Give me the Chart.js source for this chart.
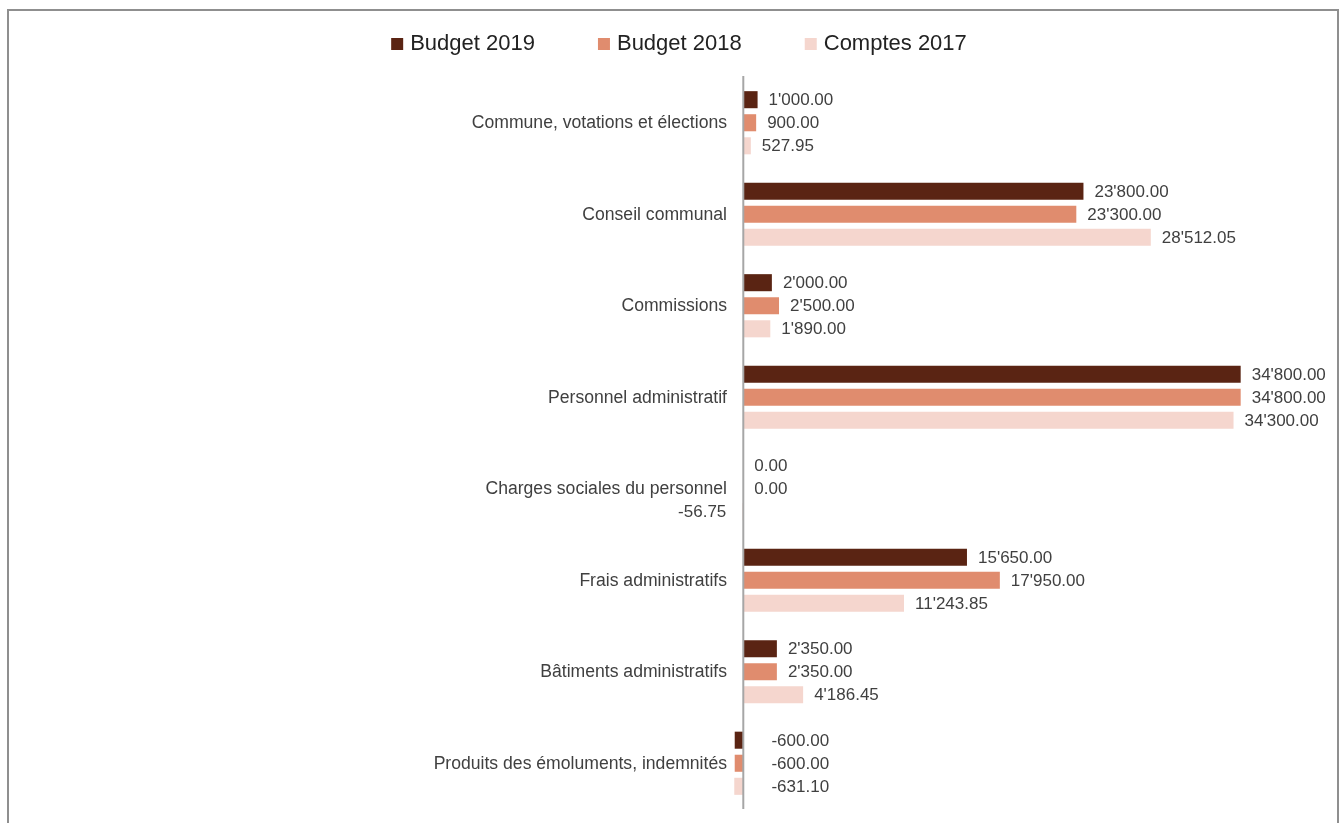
<!DOCTYPE html>
<html>
<head>
<meta charset="utf-8">
<script src="https://cdn.jsdelivr.net/npm/chart.js@4"></script>
<style>
  html, body { margin: 0; padding: 0; background: #fff; width: 1343px; height: 823px; overflow: hidden; }
  #frame { position: absolute; left: 7px; top: 9px; width: 1328px; height: 830px; border: 2px solid #8f8f8f; border-bottom: none; }
  #wrap { position: absolute; left: 0; top: 0; width: 1343px; height: 823px; }
  canvas { display: block; }
</style>
</head>
<body>
<div id="frame"></div>
<div id="wrap"><canvas id="c" width="1343" height="823"></canvas></div>
<script>
const categories = [
  "Commune, votations et élections",
  "Conseil communal",
  "Commissions",
  "Personnel administratif",
  "Charges sociales du personnel",
  "Frais administratifs",
  "Bâtiments administratifs",
  "Produits des émoluments, indemnités"
];
const budget2019 = [1000, 23800, 2000, 34800, 0, 15650, 2350, -600];
const budget2018 = [900, 23300, 2500, 34800, 0, 17950, 2350, -600];
const comptes2017 = [527.95, 28512.05, 1890, 34300, -56.75, 11243.85, 4186.45, -631.10];
const seriesNames = ["Budget 2019", "Budget 2018", "Comptes 2017"];
const seriesColors = ["#5a2413", "#e08c6e", "#f5d6ce"];

const FONT = '"Liberation Sans", Arial, Helvetica, sans-serif';
const TEXT = '#404040';

function fmt(v) {
  const neg = v < 0;
  const s = Math.abs(v).toFixed(2);
  let [i, d] = s.split('.');
  i = i.replace(/\B(?=(\d{3})+(?!\d))/g, "'");
  return (neg ? '-' : '') + i + '.' + d;
}

const zeroLine = {
  id: 'zeroLine',
  afterDatasetsDraw(chart) {
    const x = chart.scales.x.getPixelForValue(0);
    const ctx = chart.ctx, a = chart.chartArea;
    ctx.save();
    ctx.strokeStyle = '#a6a6a6';
    ctx.lineWidth = 2;
    ctx.beginPath();
    ctx.moveTo(x, a.top - 1);
    ctx.lineTo(x, a.bottom);
    ctx.stroke();
    ctx.restore();
  }
};

const dataLabels = {
  id: 'dataLabels',
  afterDatasetsDraw(chart) {
    const ctx = chart.ctx;
    const zero = chart.scales.x.getPixelForValue(0);
    ctx.save();
    ctx.font = '17px ' + FONT;
    ctx.fillStyle = TEXT;
    ctx.textBaseline = 'middle';
    chart.data.datasets.forEach((ds, di) => {
      const meta = chart.getDatasetMeta(di);
      meta.data.forEach((el, i) => {
        const v = ds.data[i];
        const t = fmt(v);
        const y = el.y + 1;
        if (v >= 0) {
          ctx.textAlign = 'left';
          ctx.fillText(t, Math.max(el.x, zero) + 11, y);
        } else if (v > -100) {
          ctx.textAlign = 'right';
          ctx.fillText(t, zero - 17, y);
        } else {
          ctx.textAlign = 'center';
          ctx.fillText(t, zero + 57, y);
        }
      });
    });
    ctx.restore();
  }
};

const customLegend = {
  id: 'customLegend',
  afterDraw(chart) {
    const ctx = chart.ctx;
    ctx.save();
    ctx.font = '22px ' + FONT;
    const box = 12, gapText = 7, gapItem = 63;
    const items = chart.data.datasets.map(d => ({ label: d.label, color: d.backgroundColor, w: box + gapText + ctx.measureText(d.label).width }));
    const total = items.reduce((s, it) => s + it.w, 0) + gapItem * (items.length - 1);
    let x = 679 - total / 2;
    const y = 44;
    ctx.textBaseline = 'middle';
    ctx.textAlign = 'left';
    items.forEach(it => {
      ctx.fillStyle = it.color;
      ctx.fillRect(x, y - box / 2, box, box);
      ctx.fillStyle = '#222';
      ctx.fillText(it.label, x + box + gapText, y);
      x += it.w + gapItem;
    });
    ctx.restore();
  }
};

new Chart(document.getElementById('c'), {
  type: 'bar',
  data: {
    labels: categories,
    datasets: [
      { label: seriesNames[0], data: budget2019, backgroundColor: seriesColors[0] },
      { label: seriesNames[1], data: budget2018, backgroundColor: seriesColors[1] },
      { label: seriesNames[2], data: comptes2017, backgroundColor: seriesColors[2] }
    ]
  },
  options: {
    indexAxis: 'y',
    responsive: false,
    animation: false,
    layout: { padding: { top: 77, bottom: 14, right: 28, left: 0 } },
    datasets: { bar: { categoryPercentage: 0.756, barPercentage: 0.74 } },
    plugins: {
      legend: { display: false },
      tooltip: { enabled: false }
    },
    scales: {
      x: { display: false, min: -650, max: 40000 },
      y: {
        grid: { display: false, drawTicks: false },
        border: { display: false },
        ticks: { padding: 7, labelOffset: 0.5, color: TEXT, font: { size: 17.6, family: FONT } },
        afterFit(scale) { scale.width = 734; scale.paddingTop = 0; scale.paddingBottom = 0; }
      }
    }
  },
  plugins: [zeroLine, dataLabels, customLegend]
});
</script>
</body>
</html>
